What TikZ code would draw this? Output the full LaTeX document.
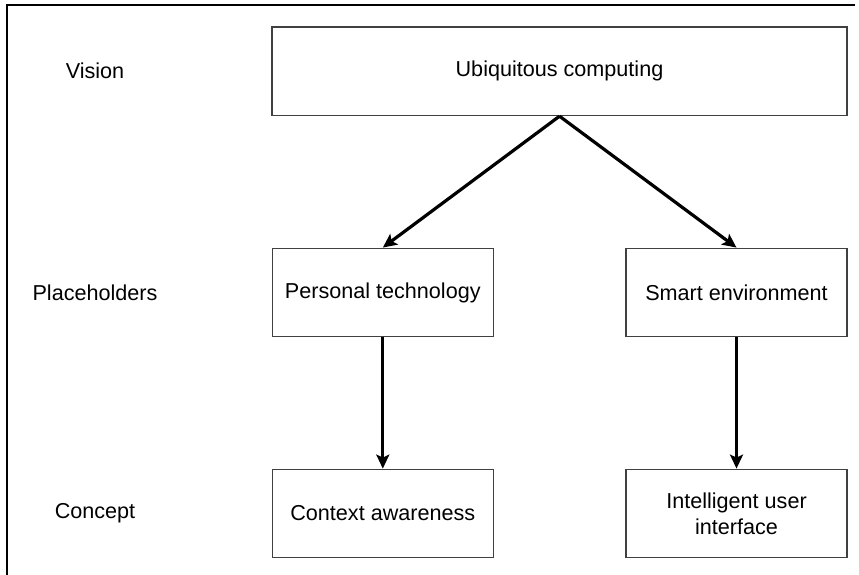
\documentclass[tikz,border=0pt]{standalone}
\usepackage{fontspec}
\setmainfont{Liberation Sans}
\usetikzlibrary{arrows.meta}
\begin{document}
\begin{tikzpicture}[x=1pt,y=-1pt,
  every node/.style={font=\fontsize{21.6}{26}\selectfont, text=black},
  box/.style={draw=black!75, line width=1.3pt, minimum height=88.5pt,
    inner sep=0pt, align=center},
  wide/.style={box, minimum width=575pt},
  narrow/.style={box, minimum width=221pt},
  flow/.style={line width=3.2pt, -{Stealth[length=14pt,width=13pt,inset=3pt]}},
  tier/.style={anchor=center}]
  \useasboundingbox (0,0) rectangle (859,575);

  % open frame: top and left edges only
  \coordinate (frameTR) at (855,5);
  \coordinate (frameTL) at (7,5);
  \coordinate (frameBL) at (7,575);
  \draw[line width=1.6pt] (frameTR) -- (frameTL) -- (frameBL);

  % tier labels
  \node[tier] (vision) at (95,71) {Vision};
  \node[tier] (place) at (95,292.5) {Placeholders};
  \node[tier] (concept) at (95,513.5) {Concept};

  % boxes
  \node[wide] (ubi) at (559.5,71.3) {Ubiquitous computing};
  \node[narrow] (pers) at (382.8,292.5) {Personal technology};
  \node[narrow] (smart) at (736.5,292.5) {Smart environment};
  \node[narrow] (ctx) at (382.8,513.5) {Context awareness};
  \node[narrow] (iui) at (736.5,513.5) {Intelligent user\\interface};

  % connectors
  \draw[flow] (ubi.south) -- (pers.north);
  \draw[flow] (ubi.south) -- (smart.north);
  \draw[flow] (pers.south) -- (ctx.north);
  \draw[flow] (smart.south) -- (iui.north);
\end{tikzpicture}
\end{document}
